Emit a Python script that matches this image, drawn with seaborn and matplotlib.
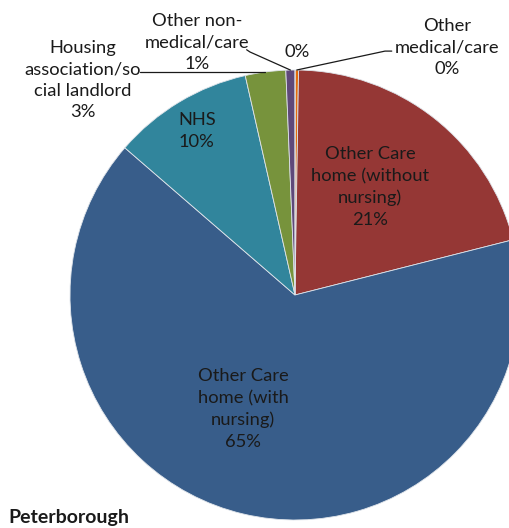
import numpy as np
import matplotlib
matplotlib.use("Agg")
import matplotlib.pyplot as plt
import seaborn as sns

# Share of discharge destinations, Peterborough (percent)
categories = [
    "Other medical/care",
    "Other Care home (without nursing)",
    "Other Care home (with nursing)",
    "NHS",
    "Housing association/social landlord",
    "Other non-medical/care",
    "",
]
shares = [0.25, 20.8, 65.3, 10.1, 2.9, 0.65, 0.0]
label_texts = [
    "Other\nmedical/care",
    "Other Care\nhome (without\nnursing)",
    "Other Care\nhome (with\nnursing)",
    "NHS",
    "Housing\nassociation/so\ncial landlord",
    "Other non-\nmedical/care",
    "",
]
slice_colors = ["#E46C0A", "#953735", "#385D8A", "#31859C", "#77933C", "#5F497A", "#8EB4E3"]
title_text = "Peterborough"

sns.set_theme(style="white")
plt.rcParams["font.family"] = ["Lato", "DejaVu Sans"]

W, H, DPI = 509, 528, 100
fig = plt.figure(figsize=(W / DPI, H / DPI), dpi=DPI)
cx, cy, R = 295, 295, 225  # pie centre and radius in pixels
ax = fig.add_axes([(cx - R) / W, (H - cy - R) / H, 2 * R / W, 2 * R / H])

palette = sns.color_palette(slice_colors)
wedges, _ = ax.pie(
    shares,
    colors=palette,
    startangle=90,
    counterclock=False,
    radius=1,
    wedgeprops=dict(edgecolor="#dfe4ea", linewidth=0.6),
)
ax.set_xlim(-1, 1)
ax.set_ylim(-1, 1)
ax.set_aspect("equal")
ax.axis("off")
for w in wedges:
    w.set_clip_on(False)

total = sum(shares)
pct = [f"{round(v / total * 100):.0f}%" for v in shares]

# label placement in unit-pie coordinates: text centre, leader start (or None)
layout = {
    0: ((0.676, 1.102), (0.40, 1.084)),
    1: ((0.333, 0.48), None),
    2: ((-0.231, -0.507), None),
    3: ((-0.436, 0.729), None),
    4: ((-0.942, 0.956), (-0.689, 0.991)),
    5: ((-0.436, 1.124), (-0.20, 1.08)),
    6: ((0.009, 1.08), None),
}

fs = 13.2
for i, w in enumerate(wedges):
    (tx, ty), leader = layout[i]
    txt = label_texts[i] + ("\n" if label_texts[i] else "") + pct[i]
    ax.text(tx, ty, txt, ha="center", va="center", fontsize=fs,
            linespacing=1.42, color="#1a1a1a", clip_on=False)
    if leader is not None:
        mid = np.deg2rad((w.theta1 + w.theta2) / 2)
        ex, ey = np.cos(mid), np.sin(mid)
        lx, ly = leader
        if i == 4:
            pts = [(lx, ly), (ex, ly)]
        elif i == 5:
            pts = [(lx - 0.015, ly + 0.01), (lx, ly), (ex, ey)]
        else:
            pts = [(lx + 0.03, ly), (lx, ly), (ex, ey)]
        xs, ys = zip(*pts)
        ax.plot(xs, ys, color="#1a1a1a", linewidth=0.9, clip_on=False)

fig.text(8 / W, 1 - 518 / H, title_text, fontsize=14, fontweight="bold",
         ha="left", va="center", color="#1a1a1a")

fig.savefig("out.png", dpi=DPI)
